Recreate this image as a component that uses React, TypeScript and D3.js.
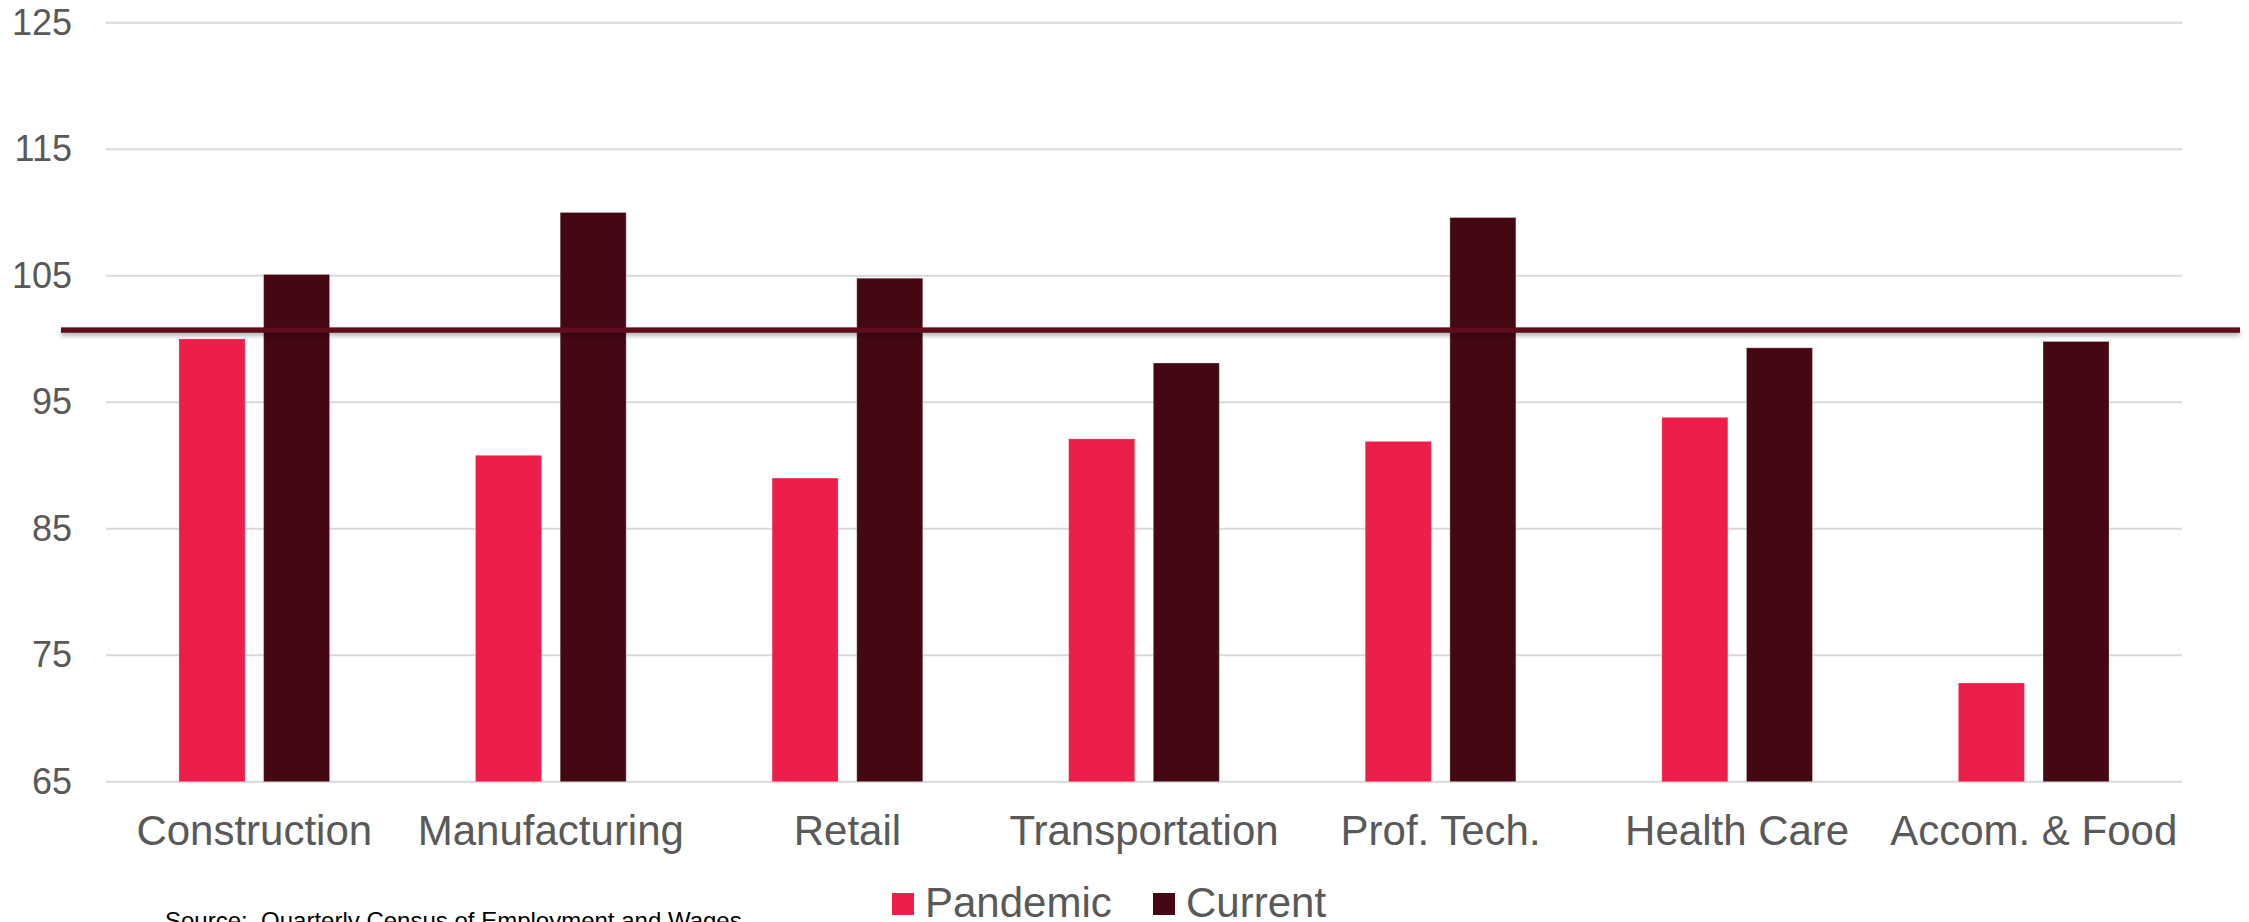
import * as d3 from 'd3';

// employment index by industry
const categories = [
  'Construction',
  'Manufacturing',
  'Retail',
  'Transportation',
  'Prof. Tech.',
  'Health Care',
  'Accom. & Food',
];
const pandemic = [100.0, 90.8, 89.0, 92.1, 91.9, 93.8, 72.8];
const current = [105.1, 110.0, 104.8, 98.1, 109.6, 99.3, 99.8];
const seriesNames = ['Pandemic', 'Current'];
const seriesColors = ['#eb1f4a', '#440813'];
const yTicks = [65, 75, 85, 95, 105, 115, 125];
const referenceLevel = 100.7;
const sourceNote = 'Source:  Quarterly Census of Employment and Wages';

const width = 2249;
const height = 922;
const margin = { top: 22.7, right: 67, bottom: 140.3, left: 106 };
const font = '"Liberation Sans", Arial, sans-serif';
const textColor = '#595959';

const App = () => {
  const x0 = d3
    .scaleBand<string>()
    .domain(categories)
    .range([margin.left, width - margin.right])
    .paddingInner(0)
    .paddingOuter(0);

  const groupPad = x0.bandwidth() * 0.246;
  const x1 = d3
    .scaleBand<string>()
    .domain(seriesNames)
    .range([groupPad, x0.bandwidth() - groupPad])
    .paddingInner(0.22);

  const y = d3
    .scaleLinear()
    .domain([65, 125])
    .range([height - margin.bottom, margin.top]);

  const values = [pandemic, current];

  // legend layout
  const legendItems = [
    { name: seriesNames[0], color: seriesColors[0], x: 892 },
    { name: seriesNames[1], color: seriesColors[1], x: 1153 },
  ];

  const refY = y(referenceLevel);

  return (
    <svg
      width={width}
      height={height}
      style={{ position: 'absolute', left: 0, top: 0, display: 'block', background: '#fff' }}
    >
      <defs>
        <filter
          id="lineShadow"
          filterUnits="userSpaceOnUse"
          x={40}
          y={refY - 20}
          width={2230}
          height={40}
        >
          <feDropShadow dx="0" dy="3" stdDeviation="2" floodColor="#000" floodOpacity="0.3" />
        </filter>
      </defs>

      {/* gridlines + y tick labels */}
      {yTicks.map((t) => (
        <g key={t}>
          <line
            x1={margin.left}
            x2={width - margin.right}
            y1={y(t)}
            y2={y(t)}
            stroke="#d9d9d9"
            strokeWidth={2}
          />
          <text
            x={72}
            y={y(t)}
            dy="0.34em"
            textAnchor="end"
            fontFamily={font}
            fontSize={36}
            fill={textColor}
          >
            {t}
          </text>
        </g>
      ))}

      {/* bars */}
      {categories.map((c, i) => (
        <g key={c} transform={`translate(${x0(c)},0)`}>
          {seriesNames.map((s, j) => (
            <rect
              key={s}
              x={x1(s)}
              y={y(values[j][i])}
              width={x1.bandwidth()}
              height={y(65) - y(values[j][i])}
              fill={seriesColors[j]}
              stroke={j === 1 ? 'rgba(255,255,255,0.3)' : 'rgba(255,255,255,0.2)'}
              strokeWidth={1}
            />
          ))}
        </g>
      ))}

      {/* reference line */}
      <rect
        x={61}
        y={refY - 2.7}
        width={2240 - 61}
        height={5.4}
        fill="#5f0a1f"
        filter="url(#lineShadow)"
      />

      {/* category labels */}
      {categories.map((c) => (
        <text
          key={c}
          x={(x0(c) ?? 0) + x0.bandwidth() / 2}
          y={845}
          textAnchor="middle"
          fontFamily={font}
          fontSize={42}
          fill={textColor}
        >
          {c}
        </text>
      ))}

      {/* legend */}
      {legendItems.map((l) => (
        <g key={l.name}>
          <rect x={l.x} y={893} width={22} height={22} fill={l.color} />
          <text x={l.x + 33} y={917} fontFamily={font} fontSize={42} fill={textColor}>
            {l.name}
          </text>
        </g>
      ))}

      {/* source note */}
      <text
        x={165}
        y={929}
        fontFamily={font}
        fontSize={24}
        fill="#000"
        style={{ whiteSpace: 'pre' }}
      >
        {sourceNote}
      </text>
    </svg>
  );
};

export default App;
